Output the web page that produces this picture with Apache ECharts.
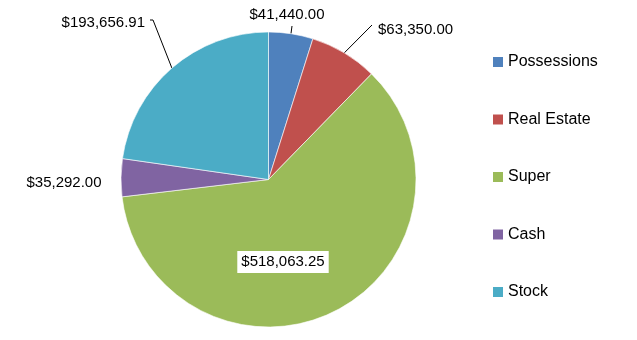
<!DOCTYPE html>
<html>
<head>
<meta charset="utf-8">
<script src="https://cdn.jsdelivr.net/npm/echarts@6/dist/echarts.min.js"></script>
<style>html,body{margin:0;padding:0;background:#fff;}#c{width:637px;height:340px;}</style>
</head>
<body>
<div id="c"></div>
<script>
const categories = ['Possessions', 'Real Estate', 'Super', 'Cash', 'Stock'];
const values = [41440.00, 63350.00, 518063.25, 35292.00, 193656.91];
const colors = ['#4F81BD', '#C0504D', '#9BBB59', '#8064A2', '#4BACC6'];

// label placement (layout only)
const labelPlace = {
  0: {x: 287, y: 15, align: 'center', line: [[292, 26]]},
  1: {x: 378, y: 30, align: 'left', line: [[372, 25]]},
  2: {x: 283, y: 262, align: 'center', line: null},
  3: {x: 64, y: 183, align: 'center', line: null},
  4: {x: 145, y: 23, align: 'right', line: [[153, 20], [150, 20]]}
};

function fmt(v) {
  return '$' + v.toLocaleString('en-US', {minimumFractionDigits: 2, maximumFractionDigits: 2});
}

const FONT = 'Liberation Sans';
const chart = echarts.init(document.getElementById('c'), null, {renderer: 'canvas'});
chart.setOption({
  animation: false,
  color: colors,
  legend: {
    orient: 'vertical',
    left: 493,
    top: 54,
    padding: 0,
    itemWidth: 10,
    itemHeight: 10,
    itemGap: 41.5,
    icon: 'rect',
    data: categories,
    itemStyle: {borderWidth: 0},
    textStyle: {fontFamily: FONT, fontSize: 16, color: '#000', lineHeight: 16}
  },
  series: [{
    type: 'pie',
    center: [268.5, 179.5],
    radius: [0, 147.5],
    startAngle: 90,
    clockwise: true,
    avoidLabelOverlap: false,
    itemStyle: {borderColor: '#ffffff', borderWidth: 0.6},
    label: {
      show: true,
      formatter: p => fmt(p.value),
      fontFamily: FONT,
      fontSize: 15,
      color: '#000'
    },
    labelLine: {show: true, lineStyle: {color: '#000', width: 1}, length: 10, length2: 5},
    emphasis: {disabled: true},
    data: categories.map((c, i) => {
      const d = {name: c, value: values[i]};
      if (i === 2) {
        d.label = {position: 'inside', backgroundColor: '#fff', padding: [4, 4, 3, 4]};
        d.labelLine = {show: false};
      }
      if (i === 3) {
        d.labelLine = {show: false};
      }
      return d;
    }),
    labelLayout: function (params) {
      const p = labelPlace[params.dataIndex];
      const out = {x: p.x, y: p.y, align: p.align, verticalAlign: 'middle'};
      if (p.line && params.labelLinePoints) {
        out.labelLinePoints = [params.labelLinePoints[0]].concat(p.line);
      }
      return out;
    }
  }]
});
</script>
</body>
</html>
